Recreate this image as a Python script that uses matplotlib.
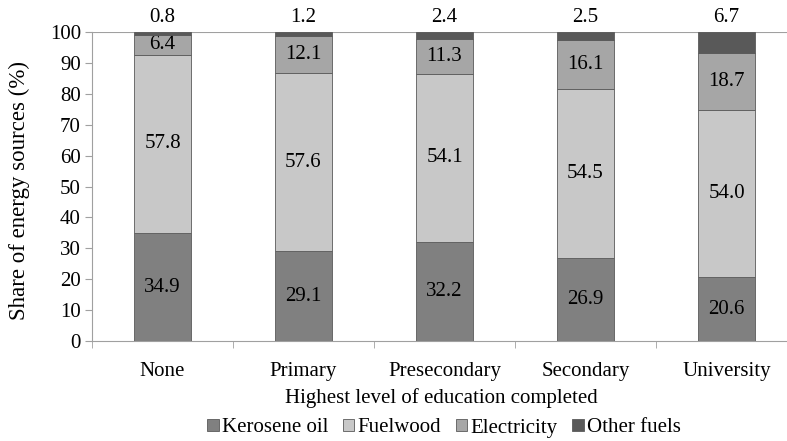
import matplotlib.pyplot as plt
import numpy as np

# Data
levels = ["None", "Primary", "Presecondary", "Secondary", "University"]
kerosene = [34.9, 29.1, 32.2, 26.9, 20.6]
fuelwood = [57.8, 57.6, 54.1, 54.5, 54.0]
electricity = [6.4, 12.1, 11.3, 16.1, 18.7]
other = [0.8, 1.2, 2.4, 2.5, 6.7]

series = [("Kerosene oil", kerosene, "#808080"),
          ("Fuelwood", fuelwood, "#c8c8c8"),
          ("Electricity", electricity, "#a6a6a6"),
          ("Other fuels", other, "#595959")]

plt.rcParams['font.family'] = ['Liberation Serif', 'DejaVu Serif']
FS = 15

fig = plt.figure(figsize=(7.87, 4.41), dpi=100)
ax = fig.add_axes([92 / 787, 1 - 341 / 441, (797 - 92) / 787, (341 - 32) / 441])

x = np.arange(len(levels))
bottom = np.zeros(len(levels))
for i, (name, vals, col) in enumerate(series):
    vals = np.array(vals)
    ax.bar(x, vals, 0.4, bottom=bottom, color=col, edgecolor="#5a5a5a",
           linewidth=0.6, label=name, zorder=3)
    for xi, b, v in zip(x, bottom, vals):
        if i < 3:
            ax.text(xi, b + v / 2, f"{v:.1f}", ha='center', va='center', fontsize=FS)
        else:
            ax.text(xi, 101.5, f"{v:.1f}", ha='center', va='bottom', fontsize=FS)
    bottom += vals

ax.set_xlim(-0.5, 4.5)
ax.set_ylim(0, 100)
ax.set_yticks(range(0, 101, 10))
ax.set_xticks(x)
ax.set_xticklabels(levels)
ax.set_xticks(np.arange(-0.5, 5, 1), minor=True)
ax.tick_params(axis='x', which='major', length=0, pad=15, labelsize=FS)
ax.tick_params(axis='x', which='minor', length=5, color="#a0a0a0")
ax.tick_params(axis='y', length=5, color="#a0a0a0", labelsize=FS, pad=3)
ax.axhline(100, color="#a0a0a0", linewidth=0.8, zorder=1)

for s in ["top", "right"]:
    ax.spines[s].set_visible(False)
for s in ["left", "bottom"]:
    ax.spines[s].set_color("#a0a0a0")
    ax.spines[s].set_linewidth(0.8)

fig.text(19 / 787, 1 - 190 / 441, "Share of energy sources (%)", rotation=90,
         ha='center', va='center', fontsize=16.5)
fig.text(441 / 787, 1 - 398 / 441, "Highest level of education completed",
         ha='center', va='center', fontsize=FS)

fig.legend(loc='center', bbox_to_anchor=(444 / 787, 1 - 428 / 441), ncol=4,
           frameon=False, prop={'family': 'Liberation Serif', 'size': FS},
           handlelength=0.55, handleheight=0.55,
           handletextpad=0.15, columnspacing=0.7, borderaxespad=0)

plt.savefig("out.png", dpi=100)
